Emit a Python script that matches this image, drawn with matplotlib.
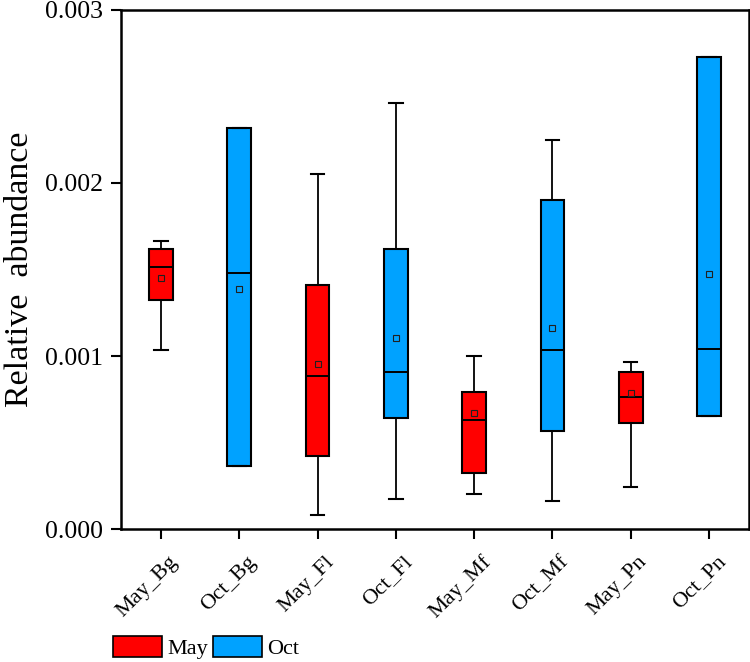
import matplotlib
matplotlib.use("Agg")
import matplotlib.pyplot as plt
import matplotlib.transforms as mtransforms
from matplotlib.patches import Patch

# box statistics (relative abundance)
labels = ["May_Bg", "Oct_Bg", "May_Fl", "Oct_Fl",
          "May_Mf", "Oct_Mf", "May_Pn", "Oct_Pn"]
whislo = [0.001037, 0.000364, 0.000081, 0.000175, 0.000202, 0.000164, 0.000241, 0.000653]
q1 = [0.001326, 0.000364, 0.000422, 0.000642, 0.000324, 0.000568, 0.000613, 0.000653]
med = [0.001512, 0.001478, 0.000884, 0.000909, 0.000630, 0.001037, 0.000761, 0.001039]
q3 = [0.001618, 0.002316, 0.001410, 0.001617, 0.000794, 0.001900, 0.000908, 0.002728]
whishi = [0.001665, 0.002316, 0.002054, 0.002464, 0.001000, 0.002249, 0.000965, 0.002728]
means = [0.001453, 0.001385, 0.000952, 0.001102, 0.000671, 0.001162, 0.000786, 0.001474]
season = ["May", "Oct", "May", "Oct", "May", "Oct", "May", "Oct"]

colors = {"May": "#FF0000", "Oct": "#00A2FF"}

plt.rcParams["font.family"] = ["Liberation Serif", "DejaVu Serif"]

stats = []
for i, lab in enumerate(labels):
    stats.append(dict(label=lab, whislo=whislo[i], q1=q1[i], med=med[i],
                      q3=q3[i], whishi=whishi[i], mean=means[i], fliers=[]))

fig = plt.figure(figsize=(7.5, 6.62), dpi=100)
ax = fig.add_axes([0.1613, 0.2009, 0.8374, 0.7840])

pos = list(range(1, len(labels) + 1))
bp = ax.bxp(stats, positions=pos, widths=0.30, patch_artist=True,
            showmeans=True, showcaps=True, capwidths=0.17,
            boxprops=dict(linewidth=1.5, edgecolor="black"),
            medianprops=dict(color="black", linewidth=1.4),
            whiskerprops=dict(color="black", linewidth=1.3),
            capprops=dict(color="black", linewidth=1.5),
            meanprops=dict(marker="s", markersize=5, markerfacecolor="none",
                           markeredgecolor="#202020", markeredgewidth=0.8))
for box, s in zip(bp["boxes"], season):
    box.set_facecolor(colors[s])

ax.set_xlim(0.49, 8.51)
ax.set_ylim(0, 0.003)
ax.set_yticks([0, 0.001, 0.002, 0.003])
ax.set_yticklabels(["0.000", "0.001", "0.002", "0.003"], fontsize=18.5)
ax.set_xticks(pos)
ax.set_xticklabels(labels, rotation=45, ha="right", va="top",
                   rotation_mode="anchor", fontsize=16)
ax.tick_params(direction="out", length=7, width=1.5)
ax.tick_params(axis="y", pad=6)
ax.tick_params(axis="x", pad=9)
# small nudge to the right (after tick_params, which resets transforms)
shift = mtransforms.ScaledTranslation(0.07, -0.01, fig.dpi_scale_trans)
for t in ax.get_xticklabels():
    t.set_transform(t.get_transform() + shift)
for sp in ax.spines.values():
    sp.set_linewidth(1.8)
ax.set_ylabel("Relative  abundance", fontsize=24.5, labelpad=7)

handles = [Patch(facecolor=colors["May"], edgecolor="black", linewidth=1.2, label="May"),
           Patch(facecolor=colors["Oct"], edgecolor="black", linewidth=1.2, label="Oct")]
fig.legend(handles=handles, loc="upper left", bbox_to_anchor=(113 / 750, 1 - 636 / 662),
           ncol=2, frameon=False, fontsize=16, handlelength=2.2, handleheight=1.1,
           handletextpad=0.25, columnspacing=0.2, borderpad=0, borderaxespad=0)

fig.savefig("out.png", dpi=100)
